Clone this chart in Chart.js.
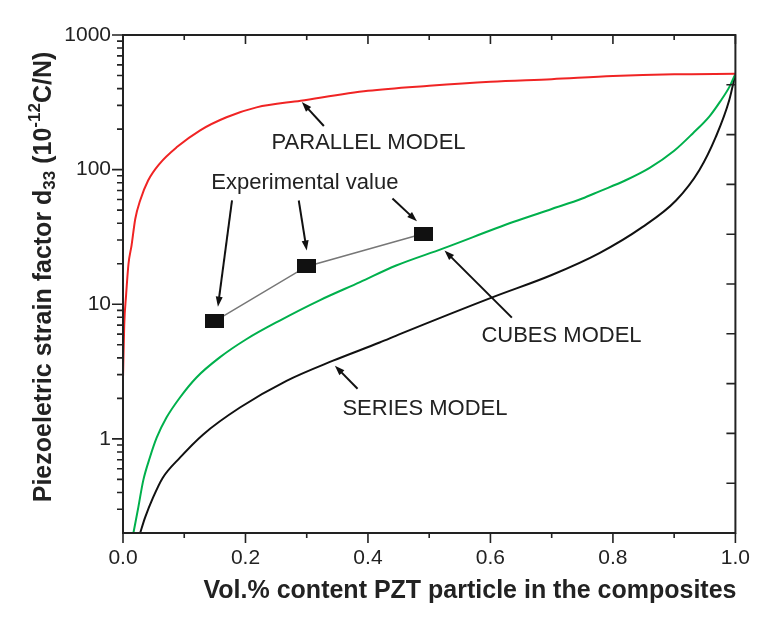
<!DOCTYPE html>
<html>
<head>
<meta charset="utf-8">
<script src="https://cdn.jsdelivr.net/npm/chart.js@4.4.1/dist/chart.umd.min.js"></script>
<style>
  html, body { margin: 0; padding: 0; background: #fff; }
  #chart { display: block; }
</style>
</head>
<body>
<canvas id="chart" width="763" height="619"></canvas>
<script>
// values (x = volume fraction, y = d33 in pC/N)
const parallelX = [0.000, 0.002, 0.005, 0.009, 0.014, 0.020, 0.028, 0.041, 0.060, 0.088, 0.126, 0.169, 0.218, 0.290, 0.400, 0.500, 0.600, 0.700, 0.800, 0.900, 1.000];
const parallelY = [2.8, 7, 11.6, 20, 27.4, 43, 59, 83, 111, 147, 196, 245, 290, 325, 385, 420, 450, 470, 495, 510, 515];

const cubesX = [0.017, 0.025, 0.033, 0.044, 0.055, 0.071, 0.093, 0.120, 0.158, 0.202, 0.256, 0.321, 0.387, 0.446, 0.522, 0.637, 0.700, 0.750, 0.778, 0.820, 0.860, 0.900, 0.930, 0.958, 0.975, 0.990, 1.000];
const cubesY = [0.2, 0.31, 0.49, 0.73, 1.02, 1.44, 2.03, 2.86, 4.03, 5.52, 7.57, 10.7, 14.6, 19.4, 25.9, 40.8, 51, 61, 69, 83, 103, 138, 185, 250, 320, 410, 515];

const seriesX = [0.028, 0.036, 0.049, 0.065, 0.093, 0.131, 0.191, 0.267, 0.343, 0.419, 0.452, 0.604, 0.700, 0.778, 0.848, 0.903, 0.941, 0.968, 0.990, 1.000];
const seriesY = [0.2, 0.26, 0.366, 0.515, 0.726, 1.08, 1.71, 2.70, 3.81, 5.2, 6.0, 11.3, 16.5, 24, 37.4, 59, 99, 175, 329, 515];

const expX = [0.15, 0.30, 0.49];
const expY = [7.5, 19.1, 33.4];

// axis ticks
const xTicks = [0, 0.2, 0.4, 0.6, 0.8, 1.0];
const xMinorTicks = [0.1, 0.3, 0.5, 0.7, 0.9];
const yTicks = [1, 10, 100, 1000];
const yMinorTicks = [0.3, 0.4, 0.5, 0.6, 0.7, 0.8, 0.9, 2, 3, 4, 5, 6, 7, 8, 9, 20, 30, 40, 50, 60, 70, 80, 90, 200, 300, 400, 500, 600, 700, 800, 900];
const rightTicks = [1, 2, 3, 4, 5, 6, 7, 8, 9];

// annotations, in data units
const noteText = ["PARALLEL MODEL", "Experimental value", "CUBES MODEL", "SERIES MODEL"];
const noteX = [0.401, 0.297, 0.716, 0.493];
const noteY = [157, 79, 5.85, 1.67];
const arrowFromX = [0.328, 0.178, 0.287, 0.440, 0.635, 0.383];
const arrowFromY = [211, 59, 59, 61, 7.96, 2.36];
const arrowToX = [0.292, 0.155, 0.300, 0.480, 0.525, 0.346];
const arrowToY = [318, 9.6, 25.1, 41.3, 25.1, 3.5];

const FONT = "'Liberation Sans', Arial, Helvetica, sans-serif";
const INK = "#222";
Chart.defaults.font.family = FONT;

const pts = (xs, ys) => xs.map((x, i) => ({ x: x, y: ys[i] }));

// filled black rectangle used as marker for the measured points
const square = document.createElement("canvas");
square.width = 19;
square.height = 14;
const sq = square.getContext("2d");
sq.fillStyle = "#111";
sq.fillRect(0, 0, 19, 14);

function arrow(ctx, x1, y1, x2, y2) {
  const ang = Math.atan2(y2 - y1, x2 - x1);
  const len = 10, half = 3.5;
  ctx.beginPath();
  ctx.moveTo(x1, y1);
  ctx.lineTo(x2 - Math.cos(ang) * len * 0.8, y2 - Math.sin(ang) * len * 0.8);
  ctx.stroke();
  ctx.beginPath();
  ctx.moveTo(x2, y2);
  ctx.lineTo(x2 - Math.cos(ang) * len - Math.sin(ang) * half, y2 - Math.sin(ang) * len + Math.cos(ang) * half);
  ctx.lineTo(x2 - Math.cos(ang) * len + Math.sin(ang) * half, y2 - Math.sin(ang) * len - Math.cos(ang) * half);
  ctx.closePath();
  ctx.fill();
}

const frame = {
  id: "frame",
  afterDatasetsDraw(chart) {
    const { ctx, chartArea: a, scales: { x, y, y2 } } = chart;
    ctx.save();
    ctx.strokeStyle = INK;
    ctx.lineWidth = 2;
    ctx.strokeRect(a.left, a.top, a.right - a.left, a.bottom - a.top);

    ctx.lineWidth = 1.6;
    ctx.beginPath();
    const tick = (x1, y1, x2, y2) => { ctx.moveTo(x1, y1); ctx.lineTo(x2, y2); };
    xTicks.forEach(v => {
      const p = x.getPixelForValue(v);
      tick(p, a.bottom, p, a.bottom + 10);
      tick(p, a.top, p, a.top + 9);
    });
    xMinorTicks.forEach(v => {
      const p = x.getPixelForValue(v);
      tick(p, a.bottom, p, a.bottom + 5);
      tick(p, a.top, p, a.top + 5);
    });
    yTicks.forEach(v => {
      const p = y.getPixelForValue(v);
      tick(a.left - 11, p, a.left, p);
    });
    yMinorTicks.forEach(v => {
      const p = y.getPixelForValue(v);
      tick(a.left - 6, p, a.left, p);
    });
    rightTicks.forEach(v => {
      const p = y2.getPixelForValue(v);
      tick(a.right - 9, p, a.right, p);
    });
    ctx.stroke();

    // annotation labels and arrows
    ctx.fillStyle = INK;
    ctx.font = "22px " + FONT;
    ctx.textAlign = "center";
    ctx.textBaseline = "middle";
    noteText.forEach((t, i) => {
      ctx.fillText(t, x.getPixelForValue(noteX[i]), y.getPixelForValue(noteY[i]));
    });
    ctx.strokeStyle = "#111";
    ctx.fillStyle = "#111";
    ctx.lineWidth = 2;
    arrowFromX.forEach((v, i) => {
      arrow(ctx,
        x.getPixelForValue(v), y.getPixelForValue(arrowFromY[i]),
        x.getPixelForValue(arrowToX[i]), y.getPixelForValue(arrowToY[i]));
    });

    // axis titles
    ctx.fillStyle = INK;
    ctx.font = "bold 25px " + FONT;
    ctx.fillText("Vol.% content PZT particle in the composites", 470, 591);

    ctx.translate(44, 277);
    ctx.rotate(-Math.PI / 2);
    const parts = [
      ["Piezoeletric strain factor d", "bold 25px " + FONT, 0],
      ["33", "bold 17px " + FONT, 6],
      [" (10", "bold 25px " + FONT, 0],
      ["-12", "bold 17px " + FONT, -9],
      ["C/N)", "bold 25px " + FONT, 0]
    ];
    let total = 0;
    parts.forEach(p => { ctx.font = p[1]; total += ctx.measureText(p[0]).width; });
    let cx = -total / 2;
    ctx.textAlign = "left";
    parts.forEach(p => {
      ctx.font = p[1];
      ctx.fillText(p[0], cx, p[2]);
      cx += ctx.measureText(p[0]).width;
    });
    ctx.restore();
  }
};

const line = (xs, ys, color) => ({
  data: pts(xs, ys),
  borderColor: color,
  borderWidth: 2,
  pointRadius: 0,
  cubicInterpolationMode: "monotone"
});

new Chart(document.getElementById("chart"), {
  type: "line",
  data: {
    datasets: [
      line(parallelX, parallelY, "#f02424"),
      line(cubesX, cubesY, "#00b04c"),
      line(seriesX, seriesY, "#111111"),
      {
        data: pts(expX, expY),
        borderColor: "#777",
        borderWidth: 1.5,
        pointStyle: square,
        pointRadius: 8
      }
    ]
  },
  options: {
    responsive: false,
    animation: false,
    layout: { padding: { top: 35, left: 0, right: 0, bottom: 0 } },
    plugins: { legend: { display: false }, tooltip: { enabled: false } },
    scales: {
      x: {
        type: "linear",
        min: 0,
        max: 1,
        afterBuildTicks: s => { s.ticks = xTicks.map(v => ({ value: v })); },
        afterFit: s => { s.height = 86; },
        ticks: {
          callback: v => v.toFixed(1),
          font: { size: 21 },
          color: INK,
          padding: 13,
          maxRotation: 0
        },
        grid: { display: false, drawTicks: false },
        border: { display: false }
      },
      y: {
        type: "logarithmic",
        min: 0.2,
        max: 1000,
        afterBuildTicks: s => { s.ticks = yTicks.map(v => ({ value: v })); },
        afterFit: s => { s.width = 123; },
        ticks: {
          callback: v => String(v),
          font: { size: 21 },
          color: INK,
          padding: 12
        },
        grid: { display: false, drawTicks: false },
        border: { display: false }
      },
      y2: {
        type: "linear",
        position: "right",
        min: 0,
        max: 10,
        afterFit: s => { s.width = 27; },
        ticks: { display: false },
        grid: { display: false, drawTicks: false },
        border: { display: false }
      }
    }
  },
  plugins: [frame]
});
</script>
</body>
</html>
